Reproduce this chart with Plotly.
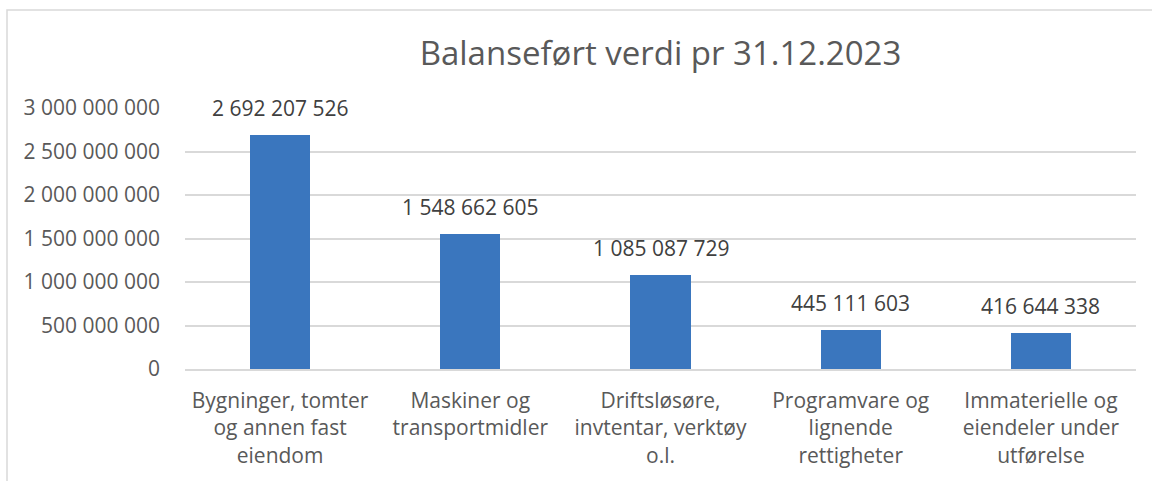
import plotly.graph_objects as go

categories = [
    "Bygninger, tomter<br>og annen fast<br>eiendom",
    "Maskiner og<br>transportmidler",
    "Driftsløsøre,<br>invtentar, verktøy<br>o.l.",
    "Programvare og<br>lignende<br>rettigheter",
    "Immaterielle og<br>eiendeler under<br>utførelse",
]
values = [2692207526, 1548662605, 1085087729, 445111603, 416644338]
tick_vals = [0, 500000000, 1000000000, 1500000000, 2000000000, 2500000000, 3000000000]
title_text = "Balanseført verdi pr 31.12.2023"

FONT = "Open Sans"
GREY = "#595959"

fig = go.Figure()
fig.add_trace(go.Bar(
    x=categories, y=values,
    marker=dict(color="#3A76BE", line=dict(width=0)),
    width=0.316,
    hoverinfo="skip",
))

for c, v in zip(categories, values):
    fig.add_annotation(
        x=c, y=v, text=f"{v:,}".replace(",", " "),
        showarrow=False, yanchor="bottom", yshift=11,
        font=dict(family=FONT, size=21, color="#404040"),
    )

W, H = 1152, 481
L, R, T, B = 185, 16, 108, 112
pw, ph = W - L - R, H - T - B

def px(xp):
    return (xp - L) / pw

def py(yp):
    return (H - B - yp) / ph

fig.add_shape(type="rect", xref="paper", yref="paper",
              x0=px(7), x1=px(1170), y0=py(10), y1=py(500),
              line=dict(color="#D9D9D9", width=1.5), fillcolor="rgba(0,0,0,0)", layer="below")

fig.update_layout(
    width=W, height=H,
    margin=dict(l=L, r=R, t=T, b=B),
    paper_bgcolor="white", plot_bgcolor="white",
    separators=", ",
    showlegend=False,
    title=dict(text=title_text, x=0.5, xref="paper", xanchor="center",
               y=1 - 53 / H, yanchor="middle",
               font=dict(family=FONT, size=33, color=GREY)),
    font=dict(family=FONT, color=GREY),
    xaxis=dict(
        showgrid=False, showline=True, linecolor="#D9D9D9", linewidth=1.5,
        ticks="", tickfont=dict(family=FONT, size=21, color=GREY),
        ticklabelstandoff=12,
    ),
    yaxis=dict(
        range=[0, 3000000000], tickvals=tick_vals, tickformat=",d",
        showgrid=True, gridcolor="#D9D9D9", gridwidth=1.5,
        zeroline=False, showline=False, ticks="",
        tickfont=dict(family=FONT, size=21, color=GREY),
        ticklabelstandoff=24,
    ),
    bargap=0,
)

fig.write_html("out.html", config={"displayModeBar": False},
               post_script="document.body.style.margin='0';document.body.style.overflow='hidden';")
